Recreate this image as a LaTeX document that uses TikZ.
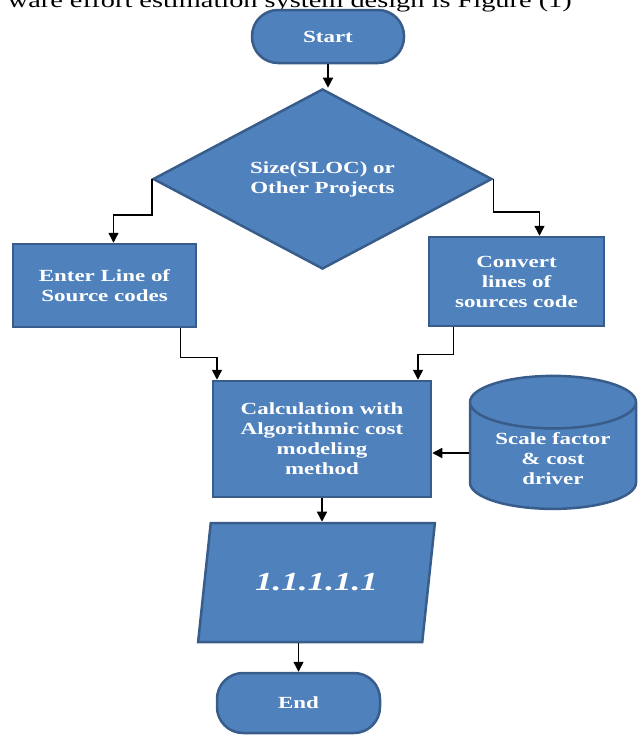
\documentclass[tikz,border=0pt]{standalone}
\usepackage{fontspec}
\setmainfont{Liberation Serif}
\newfontfamily\flowfont[FakeStretch=1.35]{Liberation Serif}
\usetikzlibrary{positioning, arrows.meta, shapes.geometric, calc}

\definecolor{boxblue}{RGB}{79,129,189}
\definecolor{boxedge}{RGB}{56,93,138}

\tikzset{
  flowbox/.style={
    draw=boxedge,
    fill=boxblue,
    line width=2.5pt,
    text=white,
    align=center,
    inner sep=2pt,
    font=\flowfont\bfseries\fontsize{17}{20}\selectfont
  },
  terminal/.style={flowbox, rectangle, rounded corners=26pt},
  procbox/.style={flowbox, rectangle},
  flowarrow/.style={-{Triangle[width=10pt,length=10pt]}, line width=1.5pt, black}
}

\begin{document}
\begin{tikzpicture}[x=1pt, y=-1pt]
  \useasboundingbox (0,0) rectangle (638,736);

  % text of the page above the figure
  \node[anchor=base east, inner sep=0pt,
        font=\flowfont\fontsize{21}{24}\selectfont] (pagetext) at (572,7)
    {ware effort estimation system design is Figure (1)};

  % flowchart nodes
  \node[terminal, minimum width=152pt, minimum height=53pt] (start) at (328,36.5) {Start};
  \node[
    flowbox,
    diamond,
    minimum width=339pt,
    minimum height=162pt,
    inner sep=0pt
  ] (sizeq) at (322.5,179) {Size(SLOC) or\\Other Projects};
  \node[procbox, minimum width=183pt, minimum height=83pt] (enter) at (104.5,285.5)
    {Enter Line of\\Source codes};
  \node[procbox, minimum width=175pt, minimum height=89pt] (convert) at (516.5,281.5)
    {Convert\\lines of\\sources code};
  \node[procbox, minimum width=218pt, minimum height=116pt] (calc) at (322,439)
    {Calculation with\\Algorithmic cost\\modeling\\method};
  \node[
    flowbox,
    cylinder,
    shape border rotate=90,
    aspect=0.44,
    minimum width=166pt,
    minimum height=133pt
  ] (scale) at (553,459) {Scale factor\\\& cost\\driver};
  \node[
    flowbox,
    trapezium,
    trapezium left angle=70.6,
    trapezium right angle=109.4,
    trapezium stretches=true,
    minimum width=237pt,
    minimum height=119pt,
    font=\flowfont\bfseries\itshape\fontsize{26}{30}\selectfont
  ] (result) at (316.5,582.5) {1.1.1.1.1};
  \node[terminal, minimum width=163pt, minimum height=60pt] (end) at (298.5,703) {End};

  % connectors
  \coordinate (scalein) at ($(calc.east)+(0,14)$);
  \draw[flowarrow] (start.south) -- (start.south |- sizeq.north);
  \draw[flowarrow] (sizeq.west) -- ++(0,36) -| ([xshift=9pt]enter.north);
  \draw[flowarrow] (sizeq.east) -- ++(0,33) -| ([xshift=23pt]convert.north);
  \draw[flowarrow] ([xshift=76pt]enter.south) -- ++(0,29) -| ([xshift=-105pt]calc.north);
  \draw[flowarrow] ([xshift=-63pt]convert.south) -- ++(0,27) -| ([xshift=96pt]calc.north);
  \draw[flowarrow] (scale.west |- scalein) -- (scalein);
  \draw[flowarrow] (calc.south) -- (calc.south |- result.north);
  \draw[flowarrow] (end.north |- result.south) -- (end.north);
\end{tikzpicture}
\end{document}
